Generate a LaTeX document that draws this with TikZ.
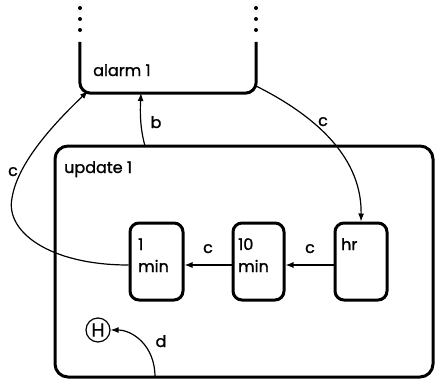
\documentclass[tikz,border=0pt]{standalone}
\usepackage{fontspec}
\setmainfont{Poppins}[FakeBold=1.2]
\usetikzlibrary{arrows.meta}
\begin{document}
\begin{tikzpicture}[x=1pt,y=-1pt,
  font=\fontsize{16}{22}\selectfont,
  statebox/.style={draw, line width=3pt, rounded corners=9pt, inner sep=0pt},
  txt/.style={inner sep=0pt, align=left},
  conn/.style={line width=1.2pt, -{Latex[length=8pt,width=6pt]}},
  lbl/.style={inner sep=0pt, anchor=base},
  dot/.style={circle, fill, inner sep=0pt, minimum size=4pt}]
\useasboundingbox (0,0) rectangle (436,383);
% alarm 1 (open at top)
\node[inner sep=0pt, minimum width=176pt, minimum height=51pt] (alarm) at (168,67.5) {};
\draw[line width=3pt, rounded corners=11pt] (alarm.north west) |- (alarm.south east) -- (alarm.north east);
\foreach \yy/\nm in {8/a,19/b,30/c}{
  \node[dot] (dl\nm) at (80,\yy) {};
  \node[dot] (dr\nm) at (256,\yy) {};
}
\node[txt, anchor=base west] (alarmlbl) at (93,76) {alarm 1};
% update 1
\node[statebox, rounded corners=13pt, minimum width=378pt, minimum height=231pt] (upd) at (244,261.5) {};
\node[txt, anchor=base west] (updlbl) at (64,173) {update 1};
% substates
\node[statebox, minimum width=53pt, minimum height=77pt] (m1) at (156.5,261.5) {};
\node[statebox, minimum width=51pt, minimum height=77pt] (m10) at (258.5,261.5) {};
\node[statebox, minimum width=52pt, minimum height=77pt] (hr) at (361,261.5) {};
\node[txt, anchor=base west] (m1t) at (138,272) {1\\min};
\node[txt, anchor=base west] (m10t) at (238,272) {10\\min};
\node[txt, anchor=base west] (hrt) at (341,250) {hr};
% history
\node[circle, draw, line width=1.2pt, inner sep=0pt, minimum size=24pt, font=\fontsize{19}{19}\selectfont] (H) at (98,330) {H};
% connectors
\coordinate (acl) at (88,91);
\coordinate (acr) at (256,86);
\coordinate (bstart) at (145,146);
\coordinate (bend) at (141,93);
\coordinate (dstart) at (155,377);
\draw[conn] (hr.west |- 0,265) -- (m10.east |- 0,265);
\draw[conn] (m10.west |- 0,265) -- (m1.east |- 0,265);
\draw[conn] (m1.west |- 0,265) .. controls (50,265) and (5,232) .. (12,198) .. controls (18,160) and (60,118) .. (acl);
\draw[conn] (acr) .. controls (320,118) and (362,160) .. (hr.north);
\draw[conn] (bstart) .. controls (140,128) and (140,112) .. (bend);
\draw[conn] (dstart) .. controls (155,345) and (132,330) .. (H.east);
% labels
\node[lbl] (lc1) at (13,176) {c};
\node[lbl] (lb) at (156,128) {b};
\node[lbl] (lc2) at (323,126) {c};
\node[lbl] (lc3) at (208,253) {c};
\node[lbl] (lc4) at (310,253) {c};
\node[lbl] (ld) at (161,347) {d};
\end{tikzpicture}
\end{document}
